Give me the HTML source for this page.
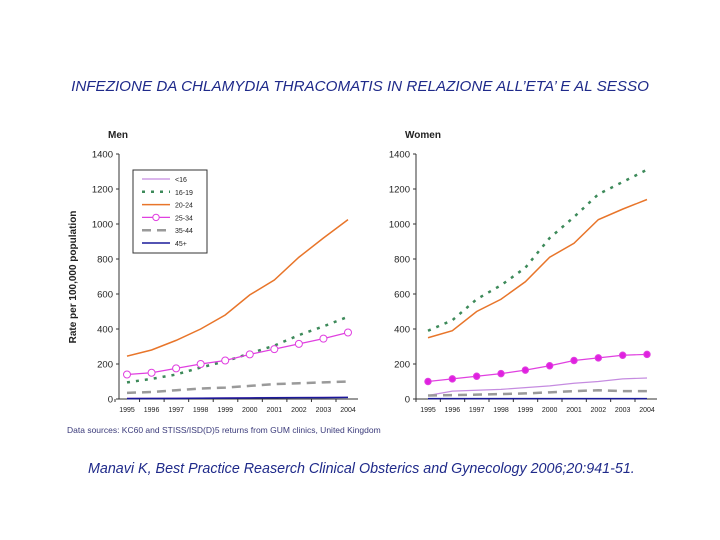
<!DOCTYPE html>
<html><head><meta charset="utf-8"><style>
body{margin:0;width:720px;height:540px;background:#fff;overflow:hidden;position:relative;font-family:"Liberation Sans",sans-serif}
.t{position:absolute;white-space:nowrap}
</style></head><body>
<div class="t" style="left:0;width:720px;text-align:center;top:78px;font-style:italic;font-size:15.2px;color:#1f2a8a">INFEZIONE DA CHLAMYDIA THRACOMATIS IN RELAZIONE ALL’ETA’ E AL SESSO</div>
<svg id="c" width="720" height="540" style="position:absolute;left:0;top:0"></svg>
<div class="t" style="left:88px;top:461px;font-style:italic;font-size:14.3px;color:#1f2a8a">Manavi K, Best Practice Reaserch Clinical Obsterics and Gynecology 2006;20:941-51.</div>
<script>
const years=[1995,1996,1997,1998,1999,2000,2001,2002,2003,2004];
const yTicks=[0,200,400,600,800,1000,1200,1400];
const menU16=[5,5,6,6,7,8,9,9,10,10];
const men1619=[95,115,140,180,215,260,305,365,415,470];
const men2024=[245,280,335,400,480,595,680,810,920,1025];
const men2534=[140,150,175,200,220,255,285,315,345,380];
const men3544=[35,40,50,60,65,75,85,90,95,100];
const men45=[2,3,3,4,5,6,7,8,8,9];
const womU16=[20,45,50,55,65,75,90,100,115,120];
const wom1619=[390,450,570,650,750,920,1040,1170,1240,1310];
const wom2024=[350,390,500,570,670,810,890,1025,1085,1140];
const wom2534=[100,115,130,145,165,190,220,235,250,255];
const wom3544=[20,22,25,28,32,38,45,50,45,45];
const wom45=[2,2,2,2,2,2,2,2,2,2];
const svg=document.getElementById('c');const NS='http://www.w3.org/2000/svg';
function mk(t,a,p){const e=document.createElementNS(NS,t);for(const k in a)e.setAttribute(k,a[k]);(p||svg).appendChild(e);return e;}
const styles={u16:{stroke:'#c58be0',w:1.2},s1619:{stroke:'#3d8a5a',w:2.5,dash:'3 6'},s2024:{stroke:'#e8752a',w:1.5},s2534:{stroke:'#e040e0',w:1.2},s3544:{stroke:'#9a9a9a',w:2.5,dash:'9 6'},s45:{stroke:'#1a1a9a',w:1.5}};
function panel(name,ax,x0,x1,title,series,filled){
  const Y=v=>399-v*245/1400;const X=i=>x0+i*(x1-x0)/9;
  const g=mk('g',{});
  const tt=mk('text',{x:ax-11,y:138,'font-size':10,'font-weight':'bold',fill:'#222'},g);tt.textContent=title;
  mk('line',{x1:ax,y1:154,x2:ax,y2:399,stroke:'#333'},g);
  mk('line',{x1:ax,y1:399,x2:x1+10,y2:399,stroke:'#333'},g);
  yTicks.forEach(v=>{mk('line',{x1:ax-3,x2:ax,y1:Y(v),y2:Y(v),stroke:'#333'},g);const t=mk('text',{x:ax-6,y:Y(v)+3.5,'font-size':9.5,'text-anchor':'end',fill:'#222'},g);t.textContent=v;});
  years.forEach((y,i)=>{mk('line',{x1:X(i)-12,x2:X(i)-12,y1:399,y2:402,stroke:'#333'},g);const t=mk('text',{x:X(i),y:412,'font-size':7,'text-anchor':'middle',fill:'#222'},g);t.textContent=y;});
  series.forEach(([key,data])=>{const s=styles[key];
    const p=mk('polyline',{points:data.map((v,i)=>X(i)+','+Y(v)).join(' '),fill:'none',stroke:s.stroke,'stroke-width':s.w},g);
    if(s.dash)p.setAttribute('stroke-dasharray',s.dash);
    
    if(key==='s2534')data.forEach((v,i)=>{const c=mk('circle',{cx:X(i),cy:Y(v),r:filled?3.2:3.5,fill:filled?'#e020e0':'#fff',stroke:'#e040e0','stroke-width':1},g);});
  });
}
panel('men',119,127,348,'Men',[['u16',menU16],['s3544',men3544],['s1619',men1619],['s2534',men2534],['s2024',men2024],['s45',men45]],false);
panel('women',416,428,647,'Women',[['u16',womU16],['s3544',wom3544],['s1619',wom1619],['s2534',wom2534],['s2024',wom2024],['s45',wom45]],true);
const yl=mk('text',{transform:'translate(76,277) rotate(-90)','font-size':10,'font-weight':'bold','text-anchor':'middle',fill:'#222'});yl.textContent='Rate per 100,000 population';
const lg=mk('g',{});
mk('rect',{x:133,y:170,width:74,height:83,fill:'#fff',stroke:'#333'},lg);
[['<16','u16'],['16-19','s1619'],['20-24','s2024'],['25-34','s2534'],['35-44','s3544'],['45+','s45']].forEach(([lab,key],i)=>{const s=styles[key];const y=179+i*12.8;
  const l=mk('line',{x1:142,x2:170,y1:y,y2:y,stroke:s.stroke,'stroke-width':s.w},lg);if(s.dash)l.setAttribute('stroke-dasharray',s.dash);
  if(key==='s2534')mk('circle',{cx:156,cy:y,r:3.2,fill:'#fff',stroke:s.stroke},lg);
  const t=mk('text',{x:175,y:y+3,'font-size':7,fill:'#222'},lg);t.textContent=lab;});
const src=mk('text',{x:67,y:433,'font-size':8.5,fill:'#3a3a7a'});src.textContent='Data sources: KC60 and STISS/ISD(D)5 returns from GUM clinics, United Kingdom';
</script>
</body></html>
